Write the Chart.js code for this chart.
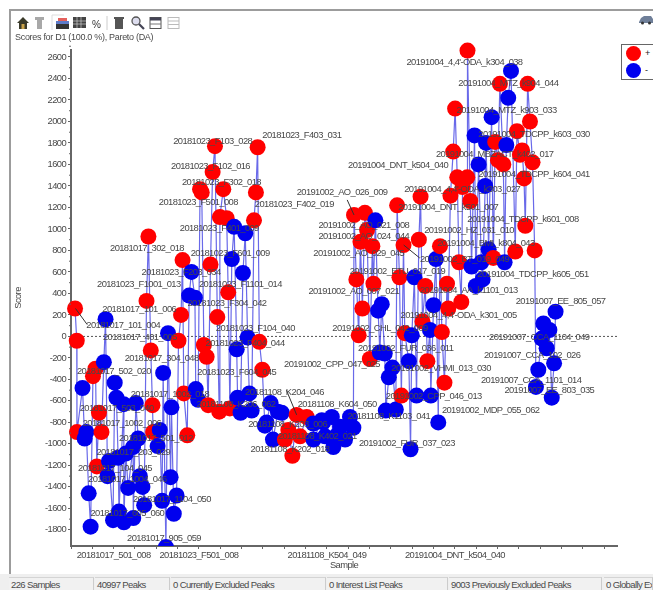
<!DOCTYPE html>
<html>
<head>
<meta charset="utf-8">
<title>Scores for D1</title>
<script src="https://cdn.jsdelivr.net/npm/chart.js@4"></script>
<style>
    html, body { margin: 0; padding: 0; background: #fff; overflow: hidden; }
    #page { position: relative; width: 653px; height: 590px; font-family: "Liberation Sans", Arial, sans-serif; color: #4a4a4a; filter: blur(0.7px); }
    #chart { position: absolute; left: 0; top: 0; }
    .frame { position: absolute; background: #9c9c9c; }
    #toolbar { position: absolute; left: 15px; top: 14px; }
    #subtitle { position: absolute; left: 15px; top: 32px; font-size: 9px; letter-spacing: -0.3px; white-space: nowrap; }
    #legend { position: absolute; left: 621px; top: 44px; width: 40px; height: 34px; border: 1px solid #666; background: #fff; }
    #legend i { position: absolute; left: 4px; width: 15px; height: 15px; border-radius: 50%; }
    #legend b { position: absolute; left: 23px; font-size: 9px; font-weight: normal; color: #222; }
    #status { position: absolute; left: 0; top: 574px; width: 653px; height: 16px; background: #efefef; }
    #status span { position: absolute; top: 3px; height: 13px; line-height: 13px; padding-left: 2px; font-size: 9.5px; letter-spacing: -0.62px; background: #f1f1f1; border-top: 1px solid #d4d4d4; border-right: 1px solid #ccc; box-sizing: border-box; white-space: nowrap; overflow: hidden; }
</style>
</head>
<body>
<div id="page">
    <canvas id="chart" width="653" height="590"></canvas>
    <div class="frame" style="left:10px;top:9px;width:643px;height:2px"></div>
    <div class="frame" style="left:9px;top:9px;width:2px;height:565px"></div>
    <svg id="toolbar" width="170" height="17" viewBox="0 0 170 17">
        <path d="M2 9 L8 3 L14 9 L12 9 L12 15 L4 15 L4 9 Z" fill="#3a3a2a"/>
        <rect x="6.5" y="10" width="3" height="5" fill="#c9a24a"/>
        <path d="M20 3 H29 V6 H27 V15 H22 V6 H20 Z" fill="#a8a8a8"/>
        <path d="M37 1 H49 M37 1 V16" stroke="#ddd" fill="none"/>
        <rect x="43" y="4" width="9" height="3" fill="#e4605c"/>
        <rect x="41" y="7" width="13" height="3" fill="#5c7ac8"/>
        <rect x="41" y="10" width="13" height="5" fill="#333"/>
        <rect x="58" y="3" width="13" height="11" fill="#444"/>
        <path d="M58 7 H71 M58 10 H71 M62 3 V14 M66 3 V14" stroke="#ccc" stroke-width="0.7"/>
        <text x="77" y="14" font-size="10" font-family="Liberation Sans" fill="#333">%</text>
        <path d="M92 2 V16" stroke="#ccc"/>
        <rect x="100" y="5" width="8" height="10" fill="#555"/>
        <rect x="99" y="3" width="10" height="2" fill="#555"/>
        <circle cx="121" cy="7" r="4" fill="#dde" stroke="#555" stroke-width="1.3"/>
        <path d="M124 10 L129 15" stroke="#445" stroke-width="2.2"/>
        <rect x="135" y="3.5" width="11" height="11" fill="#fff" stroke="#555"/>
        <rect x="135" y="3.5" width="11" height="3" fill="#445"/>
        <path d="M135 10 H146" stroke="#777"/>
        <rect x="153" y="3.5" width="11" height="11" fill="#fff" stroke="#bbb"/>
        <path d="M153 7 H164 M153 10.5 H164" stroke="#bbb"/>
    </svg>
    <svg style="position:absolute;left:639px;top:15px" width="14" height="10" viewBox="0 0 14 10">
        <path d="M0 7 L2 3 L5 1 H12 L14 4 V8 H0 Z" fill="#6f7f99"/>
        <circle cx="3.5" cy="8" r="1.5" fill="#333"/>
        <circle cx="10.5" cy="8" r="1.5" fill="#333"/>
    </svg>
    <div id="subtitle">Scores for D1 (100.0 %), Pareto (DA)</div>
    <div id="legend">
        <i style="top:1px;background:#ff0000"></i><b style="top:3px">+</b>
        <i style="top:18px;background:#0000ee"></i><b style="top:20px">-</b>
    </div>
    <div id="status">
        <span style="left:9px;width:85px">226 Samples</span>
        <span style="left:95px;width:75px">40997 Peaks</span>
        <span style="left:171px;width:155px">0 Currently Excluded Peaks</span>
        <span style="left:327px;width:121px">0 Interest List Peaks</span>
        <span style="left:449px;width:153px">9003 Previously Excluded Peaks</span>
        <span style="left:604px;width:49px">0 Globally Excluded Peaks</span>
    </div>
</div>
<script>
const yTicks = [2600, 2400, 2200, 2000, 1800, 1600, 1400, 1200, 1000, 800, 600, 400, 200, 0, -200, -400, -600, -800, -1000, -1200, -1400, -1600, -1800];
const xTickValues = [0, 10, 20, 30, 40, 50, 60, 70, 80, 90, 100, 110, 120, 130, 140, 150, 160, 170, 180, 190, 200, 210, 220, 230, 240, 250];
const xLabelAt = [20, 60, 120, 180];
const xLabelText = ["20181017_501_008", "20181023_F501_008", "20181108_K504_049", "20191004_DNT_k504_040"];

// class + samples
const redSample = [1.9, 2.7, 2.8, 10.3, 11.5, 12.1, 13.1, 14.3, 35.4, 36.3, 37.4, 38.2, 38.5, 50.4, 51.6, 52.3, 52.9, 54.5, 60.5, 61.3, 62.3, 63.6, 64.3, 65.4, 66.4, 67.5, 68.6, 69.5, 69.8, 71.4, 73, 73.7, 74.5, 85.8, 86.7, 87.5, 88.3, 89.7,
    100.3, 101.9, 103.8, 105.8, 107.4, 110.5,
    132.7, 133.8, 134.9, 135.7, 136.6, 137.8, 138.8, 140.1, 141.3, 141.8, 152.9, 154, 154.9, 155.9, 156.5, 163.1, 163.9, 164.8, 166.1, 167.1, 173, 173.9, 175.1, 176.3, 176.9, 177.9, 179.2, 180.1, 181.1, 181.9, 183, 183.6, 185.8, 185.9, 187.2,
    198, 198.9, 200.2, 201.1, 202.7, 208.3, 209.1, 210.5, 211.5, 212.4, 213, 214.1, 215.2, 216.4, 217.4];
const redScore = [260, -40, -890, -370, -300, -1210, -710, -890, 330, 930, -130, -640, -890, -40, 200, 710, -530, -920, 1370, 1340, -80, -190, -640, 670, 1530, 1770, 180, -700, 1110, 1370, 1100, 410, -670, 1080, 1340, 1760, -50, -310,
    -960, -870, -1110, -730, -930, -750,
    1130, 530, 10, 880, 260, 1150, 990, -210, 840, 490, 1220, 550, -550, 850, 30, 900, 1300, 140, 470, -230, 840, 40, -430, 490, 260, 1310, 1720, 2120, 1480, 690, 320, 1390, 1480, 2660, 1260,
    730, 1810, 1640, 2350, 1600, 790, 1910, 1690, 1730, 1470, 1030, 2350, 2000, 1620, 800];

// class - samples
const blueSample = [5.4, 6.4, 7.2, 8.3, 9.2, 15.4, 16.2, 17.1, 17.8, 19.7, 20.5, 21.3, 22.1, 22.5, 24.7, 24.8, 25.7, 26.8, 29.1, 29.2, 30.4, 31.5, 32.3, 33.5, 34.3, 40.6, 41.6, 42.7, 43.2, 44.5, 45.5, 46.7, 47.1, 48.2, 49.5, 55.4, 56.5, 58.1, 58.5, 59.6, 75.4, 76.5, 77.7, 78.1, 79.5, 80.6, 81.7, 82.8, 83.6, 84.7,
    90.9, 91.7, 93.6, 94.7, 97, 98.8, 113.6, 113.7, 117.6, 118.2, 119.1, 122.3, 123, 124.6, 126.2, 128.5, 130.8, 132.4,
    142.7, 144, 144.8, 145.7, 147.1, 147.6, 149, 150.7, 152.3, 158.4, 159.2, 159.8, 161, 162, 168.3, 168.7, 170, 171.1, 172.2,
    187.8, 189.2, 189.8, 191.1, 192.4, 193, 194.2, 194.6, 195.8, 197.2, 203.3, 204.1, 205, 206.3, 218, 219.1, 220.7, 221.5, 223, 224.3, 225.4, 226.5, 227.2];
const blueScore = [-480, -950, -890, -1460, -1770, -240, 160, -1300, -1160, -1710, -430, -570, -1130, -1630, -630, -1730, -1090, -1410, -1030, -1690, -620, -950, -1300, -1400, -1570, -1020, -870, -1530, -340, -1960, 30, -1310, -660, -1650, -1480, 380, 600, 360, -490, -590, 720, 1020, -120, -570, -710, 590, 960, -10, -530, -690,
    -830, -800, -620, -960, -700, -710, -810, -960, -780, -800, -930, -750, -1030, -920, -840, -960, -750, -850,
    1080, 240, -150, 300, -160, -690, -380, -290, -680, -230, -1050, 10, 550, -550, 60, -550, 290, 720, -800,
    650, 1870, 470, 1600, 690, 530, 1400, 1800, 810, 2040, 690, 1780, 2220, 2470, -470, -310, -20, 120, -110, 60, -570, -250, 230];

const sampleNames = ["20181023_F103_028", "20181023_F403_031", "20181023_F102_016", "20181023_F302_018", "20181023_F501_008", "20181023_F402_019", "20181023_F401_009", "20181023_F601_009", "20181017_302_018", "20181023_F203_034", "20181023_F1001_013", "20181023_F1101_014", "20181023_F304_042", "20181017_101_006", "20181017_101_004", "20181017_401_005", "20181023_F104_040", "20181023_F404_044", "20181017_304_048", "20181017_502_020", "20181023_F604_045", "20181108_K204_046", "20181017_1002_018", "20181108_K206_062", "20181017_503_040", "20181017_1002_006", "20181108_K203_006", "20181108_K402_021", "20181017_501_012", "20181108_K202_018", "20181017_203_029", "20181017_104_045", "20181017_1004_046", "20181017_1104_050", "20181017_605_060", "20181017_905_059", "20191002_CPP_047_025", "20181108_K604_050", "20181108_K1103_041",
    "20191004_4,4'-ODA_k304_038", "20191004_MTZ_k904_044", "20191004_MTZ_k903_033", "20191004_TDCPP_k603_030", "20191004_MBZACT_k402_017", "20191004_DNT_k504_040", "20191004_TDCPP_k604_041", "20191002_AO_026_009", "20191004_4,4'-ODA_k303_027", "20191004_DNT_k501_007", "20191002_AO_021_008", "20191002_AO_024_044", "20191004_TDCPP_k601_008", "20191002_HZ_031_010", "20191004_BMI_k804_043", "20191002_AO_029_045", "20191002_BT_019_049", "20191002_ETU_017_019", "20191004_TDCPP_k605_051", "20191002_AO_007_021", "20191004_AA_k1101_013", "20191007_EE_805_057", "20191004_4,4'-ODA_k301_005", "20191002_CHL_042_009", "20191007_CCA_1104_049", "20191002_FUR_036_011", "20191007_CCA_102_026", "20191002_VHMI_013_030", "20191007_CCA_1101_014", "20191007_EE_803_035", "20191002_CPP_046_013", "20191002_MDP_055_062", "20191002_FUR_037_023"];
const nameSample = [47.9, 89.7, 46.9, 52, 41.2, 86.2, 51, 56.1, 18.3, 33.1, 12.2, 60, 54.6, 14.7, 7.2, 15, 67.9, 63.1, 25.2, 2.8, 59.2, 81.6, 28, 58.9, 4.1, 5.5, 83.1, 97, 22.5, 84.2, 11.9, 3.3, 8, 29.1, 9.1, 26.3, 99.9, 106.3, 129.6,
    157.3, 181.6, 180.8, 191, 171.1, 129.9, 191, 105.8, 156.2, 153.4, 116, 116, 185.8, 165.6, 171.7, 113.6, 163.6, 130.7, 190.5, 111.3, 163.6, 208.5, 154.5, 122.5, 196, 134.6, 193.6, 150.2, 192.2, 203.2, 147.6, 173.9, 135];
const nameScore = [1819, 1868, 1586, 1431, 1251, 1230, 1009, 774, 820, 597, 486, 486, 309, 247, 98, -7, 70, -63, -207, -327, -337, -519, -535, -637, -668, -807, -817, -926, -953, -1049, -1077, -1226, -1328, -1514, -1645, -1877, -265, -633, -746,
    2553, 2358, 2107, 1882, 1698, 1595, 1512, 1338, 1372, 1198, 1031, 932, 1090, 991, 870, 774, 718, 609, 581, 417, 426, 330, 197, 76, -5, -107, -175, -296, -405, -507, -560, -684, -991];

// short leader lines from a name to its point
const leaderSample = [[2.1, 7.6], [129.5, 132.7], [101, 105.8], [156, 163.5]];
const leaderScore = [[260, 110], [1270, 1130], [-500, -730], [850, 730]];

// merge both classes by sample so the line runs left to right
const samples = redSample.map((x, i) => ({ x: x, y: redScore[i], color: "#ff0000" }))
    .concat(blueSample.map((x, i) => ({ x: x, y: blueScore[i], color: "#0000ee" })))
    .sort((a, b) => a.x - b.x);

const namesPlugin = {
    id: "sampleNames",
    beforeDraw(chart) {
        chart.ctx.letterSpacing = "-0.6px";
    },
    afterDatasetsDraw(chart) {
        const ctx = chart.ctx;
        const xs = chart.scales.x;
        const ys = chart.scales.y;
        ctx.save();
        ctx.strokeStyle = "#333";
        ctx.lineWidth = 1;
        leaderSample.forEach((pair, i) => {
            ctx.beginPath();
            ctx.moveTo(xs.getPixelForValue(pair[0]), ys.getPixelForValue(leaderScore[i][0]));
            ctx.lineTo(xs.getPixelForValue(pair[1]), ys.getPixelForValue(leaderScore[i][1]));
            ctx.stroke();
        });
        ctx.font = "9.4px 'Liberation Sans'";
        ctx.fillStyle = "#484848";
        ctx.textAlign = "left";
        ctx.textBaseline = "middle";
        sampleNames.forEach((name, i) => {
            ctx.fillText(name, xs.getPixelForValue(nameSample[i]), ys.getPixelForValue(nameScore[i]));
        });
        // minor ticks on the score axis
        ctx.strokeStyle = "#666";
        yTicks.forEach(v => {
            const py = ys.getPixelForValue(v + 100);
            ctx.beginPath();
            ctx.moveTo(ys.left + ys.width - 2, py);
            ctx.lineTo(ys.left + ys.width, py);
            ctx.stroke();
        });
        ctx.restore();
    }
};

new Chart(document.getElementById("chart"), {
    type: "scatter",
    data: {
        datasets: [
            {
                label: "Scores",
                data: samples,
                showLine: true,
                borderColor: "rgba(55, 55, 225, 0.75)",
                borderWidth: 1.2,
                tension: 0,
                pointRadius: 8,
                pointHoverRadius: 8,
                pointBorderWidth: 0,
                pointBackgroundColor: samples.map(s => s.color),
                clip: { left: false, top: false, right: false, bottom: 0 },
                order: 1
            },
            {
                label: "Zero",
                data: [{ x: 0, y: 0 }, { x: 256, y: 0 }],
                showLine: true,
                borderColor: "#555",
                borderWidth: 1,
                borderDash: [2, 2],
                pointRadius: 0,
                order: 2
            }
        ]
    },
    plugins: [namesPlugin],
    options: {
        responsive: false,
        animation: false,
        layout: { padding: { left: 13, top: 50, right: 36, bottom: 19 } },
        plugins: {
            legend: { display: false },
            tooltip: { enabled: false }
        },
        scales: {
            x: {
                type: "linear",
                min: 0,
                max: 256,
                afterFit(axis) { axis.height = 25; },
                afterBuildTicks(axis) { axis.ticks = xTickValues.map(v => ({ value: v })); },
                grid: { drawOnChartArea: false, tickLength: 3, tickColor: "#666" },
                border: { color: "#666", width: 2 },
                ticks: {
                    autoSkip: false,
                    maxRotation: 0,
                    minRotation: 0,
                    padding: 1,
                    color: "#484848",
                    font: { family: "'Liberation Sans'", size: 9.4 },
                    callback(value) {
                        const at = xLabelAt.indexOf(value);
                        return at >= 0 ? xLabelText[at] : "";
                    }
                },
                title: { display: true, text: "Sample", color: "#484848", padding: { top: 1, bottom: 0 }, font: { family: "'Liberation Sans'", size: 9.4 } }
            },
            y: {
                min: -1950,
                max: 2665,
                afterFit(axis) { axis.width = 58; },
                afterBuildTicks(axis) { axis.ticks = yTicks.map(v => ({ value: v })); },
                grid: { drawOnChartArea: false, tickLength: 3, tickColor: "#666" },
                border: { color: "#666", width: 2 },
                ticks: {
                    padding: 2,
                    color: "#484848",
                    font: { family: "'Liberation Sans'", size: 9.4 },
                    callback(value) { return String(value); }
                },
                title: { display: true, text: "Score", color: "#484848", padding: 0, font: { family: "'Liberation Sans'", size: 9.4 } }
            }
        }
    }
});
</script>
</body>
</html>
